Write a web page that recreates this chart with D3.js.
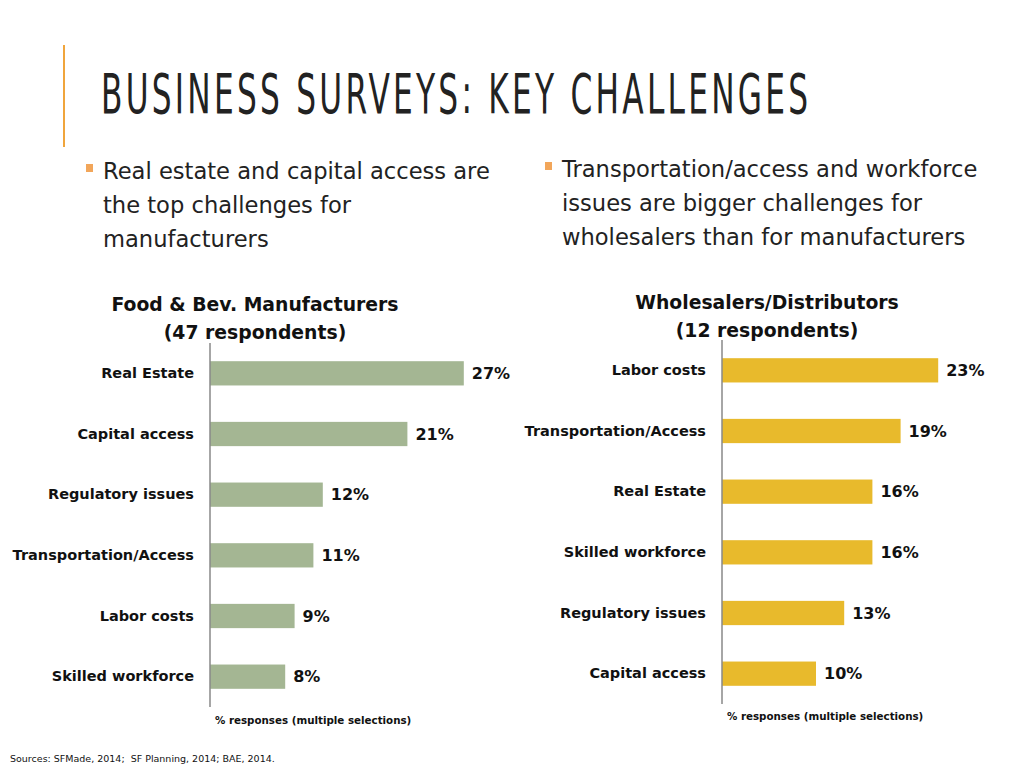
<!DOCTYPE html>
<html>
<head>
<meta charset="utf-8">
<script src="https://cdn.jsdelivr.net/npm/d3@7"></script>
<style>
  html, body { margin: 0; padding: 0; background: #fff; }
  svg { display: block; }
</style>
</head>
<body>
<svg id="chart" width="1024" height="768"></svg>
<script>
// ---- data ----
const pageTitle = "BUSINESS SURVEYS: KEY CHALLENGES";
const bulletLeft = ["Real estate and capital access are", "the top challenges for", "manufacturers"];
const bulletRight = ["Transportation/access and workforce", "issues are bigger challenges for", "wholesalers than for manufacturers"];

const mfgTitle = ["Food & Bev. Manufacturers", "(47 respondents)"];
const mfgCategories = ["Real Estate", "Capital access", "Regulatory issues", "Transportation/Access", "Labor costs", "Skilled workforce"];
const mfgValues = [27, 21, 12, 11, 9, 8];

const wsTitle = ["Wholesalers/Distributors", "(12 respondents)"];
const wsCategories = ["Labor costs", "Transportation/Access", "Real Estate", "Skilled workforce", "Regulatory issues", "Capital access"];
const wsValues = [23, 19, 16, 16, 13, 10];

const axisTitle = "% responses (multiple selections)";
const sourceText = "Sources: SFMade, 2014;  SF Planning, 2014; BAE, 2014.";

// ---- drawing ----
const svg = d3.select("#chart");
const bodyFont = "'DejaVu Sans', sans-serif";

// accent line
svg.append("line").attr("x1", 64).attr("x2", 64).attr("y1", 45).attr("y2", 147)
  .attr("stroke", "#f0a53c").attr("stroke-width", 2);

// title: condensed glyphs spread to the reference width
const titleScale = 0.62;
const titleText = svg.append("text")
  .attr("transform", `translate(101,113) scale(${titleScale},1)`)
  .attr("font-family", "'Liberation Sans Narrow', 'DejaVu Sans Condensed', sans-serif")
  .attr("font-size", 56).attr("fill", "#222")
  .text(pageTitle);
{
  const w = titleText.node().getComputedTextLength();
  const n = pageTitle.length;
  const ls = (707 / titleScale - w) / (n - 1);
  titleText.attr("letter-spacing", ls);
}

// bullets
function bullet(x, y, lines) {
  svg.append("rect").attr("x", x).attr("y", y - 7).attr("width", 7).attr("height", 8).attr("fill", "#f2a65a");
  const t = svg.append("text").attr("font-family", bodyFont).attr("font-size", 22.6).attr("fill", "#222");
  lines.forEach((l, i) => {
    t.append("tspan").attr("x", x + 17).attr("y", y + 8 + i * 34).text(l);
  });
}
bullet(86, 171, bulletLeft);
bullet(545, 169, bulletRight);

function barChart(opts) {
  const { categories, values, axisX, yTop, yBottom, color, titleLines, titleX, titleY, axisTitleY } = opts;
  const x = d3.scaleLinear().domain([0, 30]).range([axisX, axisX + 282]);
  const y = d3.scaleBand().domain(categories).range([yTop, yBottom]).paddingInner(0.6).paddingOuter(0.3);
  const g = svg.append("g");

  // title
  titleLines.forEach((l, i) => {
    g.append("text").attr("x", titleX).attr("y", titleY + i * 28)
      .attr("text-anchor", "middle").attr("font-family", bodyFont).attr("font-weight", "bold")
      .attr("font-size", 18.8).attr("fill", "#111").text(l);
  });

  // bars
  g.selectAll("rect.bar").data(values).join("rect").attr("class", "bar")
    .attr("x", x(0)).attr("y", (d, i) => y(categories[i]))
    .attr("width", d => x(d) - x(0)).attr("height", y.bandwidth())
    .attr("fill", color);

  // value labels
  g.selectAll("text.val").data(values).join("text").attr("class", "val")
    .attr("x", d => x(d) + 8).attr("y", (d, i) => y(categories[i]) + y.bandwidth() / 2)
    .attr("dy", "0.35em").attr("font-family", bodyFont).attr("font-weight", "bold")
    .attr("font-size", 16).attr("fill", "#111").text(d => d + "%");

  // category axis
  const axis = d3.axisLeft(y).tickSize(0).tickPadding(16);
  const ag = g.append("g").attr("transform", `translate(${axisX},0)`).call(axis);
  ag.select(".domain").attr("d", `M0,${yTop}V${yBottom}`).attr("stroke", "#888").attr("stroke-width", 1.5);
  ag.selectAll(".tick text").attr("font-family", bodyFont).attr("font-weight", "bold")
    .attr("font-size", 14.5).attr("fill", "#111");

  // axis title
  g.append("text").attr("x", axisX + 5).attr("y", axisTitleY)
    .attr("font-family", bodyFont).attr("font-weight", "bold").attr("font-size", 10.3)
    .attr("fill", "#111").text(axisTitle);
}

barChart({
  categories: mfgCategories, values: mfgValues, axisX: 210, yTop: 343, yBottom: 707,
  color: "#a4b693", titleLines: mfgTitle, titleX: 255, titleY: 311, axisTitleY: 724
});
barChart({
  categories: wsCategories, values: wsValues, axisX: 722, yTop: 340, yBottom: 704,
  color: "#e8ba2c", titleLines: wsTitle, titleX: 767, titleY: 309, axisTitleY: 720
});

// source
svg.append("text").attr("x", 10).attr("y", 762).attr("font-family", bodyFont)
  .style("white-space", "pre")
  .attr("font-size", 9.5).attr("fill", "#111").text(sourceText);
</script>
</body>
</html>
